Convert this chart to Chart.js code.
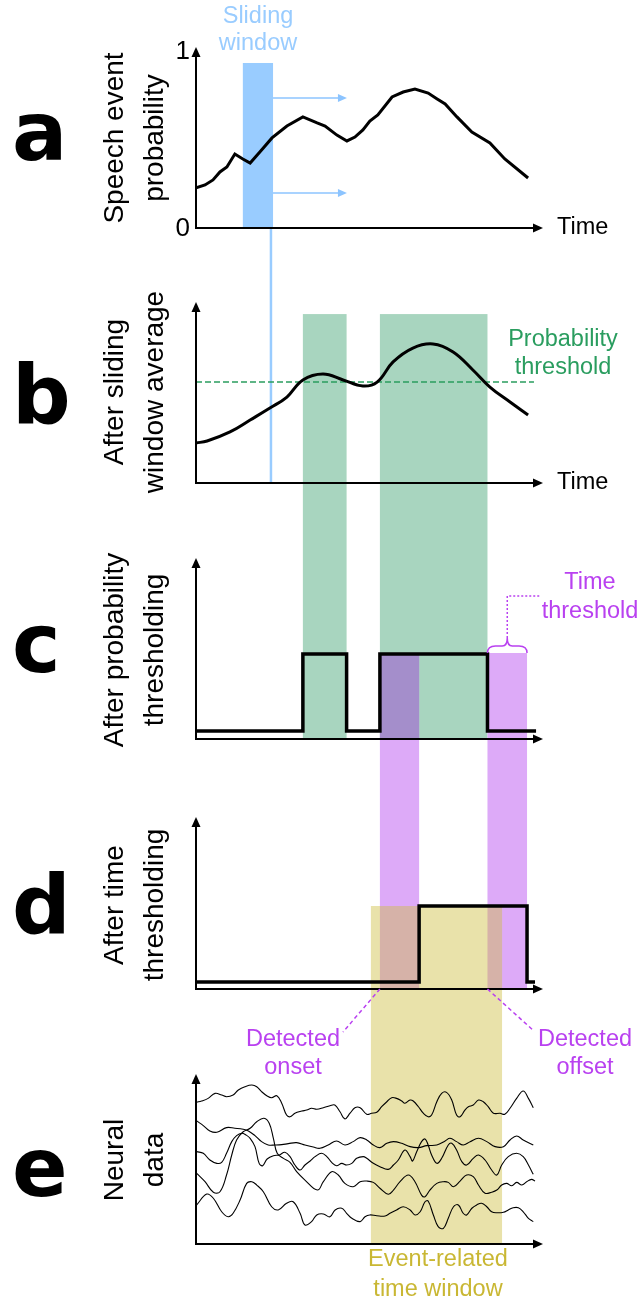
<!DOCTYPE html>
<html><head><meta charset="utf-8">
<script src="https://cdn.jsdelivr.net/npm/chart.js@4"></script>
<style>html,body{margin:0;padding:0;background:#fff;}canvas{display:block;}</style>
</head><body>
<canvas id="c" width="641" height="1302"></canvas>
<script>
// ---------------- DATA ----------------
// time axis (arbitrary units)
const timeRange = [0, 10];
// a: speech event probability
const probT = [0,0.26,0.49,0.69,0.89,1.12,1.35,1.56,1.84,2.19,2.62,3.08,3.49,3.72,4.06,4.35,4.58,4.81,5.01,5.24,5.65,5.97,6.31,6.69,6.95,7.18,7.52,7.95,8.47,8.90,9.57];
const probV = [0.225,0.242,0.27,0.315,0.343,0.416,0.388,0.365,0.427,0.506,0.573,0.624,0.59,0.573,0.522,0.489,0.511,0.551,0.601,0.635,0.736,0.764,0.781,0.758,0.725,0.697,0.624,0.539,0.478,0.388,0.281];
const probTicks = ['0', '1'];
const slidingWindow = [1.35, 2.22];
const slidingWindowTop = 0.927;
const slidingLineT = 2.16;
const slideArrowY = [0.73, 0.197];
const slideArrowEnd = 4.35;
// b: after sliding window average
const avgT = [0,0.32,0.98,1.56,2.13,2.62,3.08,3.66,4.24,4.81,5.22,5.68,6.25,6.83,7.41,7.98,8.47,9.05,9.57];
const avgV = [0.225,0.236,0.287,0.354,0.421,0.483,0.579,0.612,0.579,0.545,0.567,0.680,0.758,0.781,0.736,0.635,0.539,0.455,0.382];
const probThreshold = 0.567;
const thresholdLineEnd = 9.74;
const aboveThreshold = [[3.08, 4.34], [5.30, 8.40]];
const aboveTop = 0.949;
// c: after probability thresholding (binary steps)
const stepCT = [0, 3.08, 4.34, 5.30, 8.40, 9.80];
const stepCV = [0, 1, 0, 1, 0, 0];
const timeThresholdSpans = [[5.30, 6.43], [8.40, 9.54]];
// d: after time thresholding
const stepDT = [0, 6.43, 9.54, 9.77];
const stepDV = [0, 1, 0, 0];
const eventWindow = [5.04, 8.82];
// e: neural data
const n1T = [0.02,0.16,0.35,0.55,0.74,0.88,1.07,1.22,1.41,1.61,1.75,1.89,2.04,2.18,2.33,2.47,2.61,2.71,2.85,3.05,3.19,3.33,3.48,3.67,3.86,4.00,4.15,4.29,4.44,4.58,4.73,4.92,5.06,5.21,5.35,5.50,5.64,5.78,5.93,6.02,6.17,6.26,6.41,6.55,6.69,6.79,6.94,7.08,7.22,7.37,7.51,7.61,7.75,7.85,7.99,8.14,8.28,8.42,8.57,8.76,8.90,9.05,9.24,9.43,9.58,9.72];
const n1V = [0.849,0.856,0.872,0.902,0.892,0.882,0.892,0.922,0.942,0.952,0.942,0.912,0.888,0.876,0.888,0.843,0.772,0.762,0.783,0.796,0.802,0.813,0.807,0.816,0.828,0.832,0.792,0.749,0.783,0.816,0.816,0.777,0.783,0.789,0.822,0.852,0.876,0.872,0.856,0.843,0.862,0.856,0.822,0.783,0.762,0.772,0.852,0.902,0.908,0.862,0.772,0.762,0.802,0.822,0.832,0.862,0.852,0.822,0.783,0.783,0.777,0.813,0.872,0.916,0.872,0.816];
const n2T = [0.02,0.21,0.40,0.60,0.88,1.12,1.36,1.51,1.70,1.89,2.08,2.28,2.47,2.66,2.90,3.14,3.38,3.57,3.81,4.05,4.29,4.53,4.73,4.92,5.11,5.30,5.50,5.69,5.93,6.17,6.41,6.65,6.94,7.18,7.32,7.51,7.70,7.90,8.14,8.38,8.62,8.86,9.05,9.24,9.43,9.72];
const n2V = [0.737,0.709,0.677,0.669,0.697,0.693,0.687,0.677,0.649,0.613,0.593,0.593,0.595,0.601,0.607,0.593,0.581,0.573,0.593,0.617,0.593,0.613,0.637,0.623,0.593,0.577,0.603,0.613,0.603,0.583,0.577,0.589,0.593,0.617,0.633,0.613,0.593,0.613,0.633,0.613,0.583,0.583,0.623,0.647,0.623,0.593];
const n3T = [0.02,0.21,0.40,0.60,0.74,0.88,1.03,1.17,1.32,1.44,1.56,1.70,1.82,1.92,2.05,2.23,2.40,2.56,2.71,2.85,3.00,3.14,3.29,3.43,3.62,3.77,3.91,4.05,4.20,4.34,4.49,4.63,4.82,4.92,5.11,5.30,5.54,5.69,5.83,6.02,6.17,6.24,6.36,6.50,6.60,6.69,6.79,6.94,7.08,7.27,7.37,7.51,7.66,7.80,7.99,8.14,8.33,8.52,8.67,8.81,9.00,9.24,9.43,9.58,9.72];
const n3V = [0.553,0.543,0.503,0.483,0.489,0.543,0.613,0.649,0.663,0.653,0.633,0.583,0.483,0.469,0.509,0.529,0.533,0.549,0.523,0.473,0.443,0.473,0.497,0.523,0.543,0.523,0.489,0.469,0.483,0.473,0.483,0.513,0.523,0.513,0.483,0.463,0.447,0.473,0.503,0.563,0.523,0.497,0.553,0.613,0.629,0.593,0.533,0.483,0.513,0.593,0.603,0.563,0.493,0.473,0.513,0.533,0.503,0.443,0.413,0.473,0.523,0.543,0.523,0.473,0.417];
const n4T = [0.02,0.26,0.50,0.69,0.88,1.03,1.17,1.36,1.56,1.75,1.96,2.11,2.23,2.34,2.52,2.71,2.90,3.14,3.50,3.67,3.91,4.10,4.29,4.53,4.73,4.92,5.11,5.30,5.54,5.69,5.88,6.12,6.31,6.50,6.60,6.74,6.94,7.13,7.27,7.42,7.61,7.80,7.99,8.14,8.33,8.52,8.67,8.81,8.95,9.10,9.24,9.39,9.53,9.67,9.77];
const n4V = [0.423,0.373,0.310,0.313,0.413,0.533,0.623,0.672,0.693,0.732,0.753,0.723,0.633,0.543,0.513,0.489,0.433,0.383,0.323,0.373,0.433,0.413,0.363,0.343,0.373,0.377,0.369,0.334,0.298,0.323,0.373,0.413,0.373,0.293,0.283,0.323,0.363,0.373,0.369,0.343,0.377,0.413,0.403,0.353,0.304,0.310,0.323,0.353,0.363,0.349,0.369,0.353,0.373,0.387,0.377];
const n5T = [0.02,0.31,0.50,0.74,0.93,1.07,1.27,1.46,1.61,1.75,1.94,2.18,2.37,2.61,2.80,3.00,3.14,3.33,3.48,3.67,3.86,4.01,4.20,4.34,4.49,4.73,4.87,5.01,5.21,5.45,5.59,5.78,5.97,6.17,6.31,6.46,6.60,6.69,6.84,6.98,7.13,7.27,7.42,7.56,7.70,7.80,7.95,8.09,8.23,8.38,8.52,8.67,8.86,9.00,9.14,9.29,9.43,9.58,9.72];
const n5V = [0.234,0.299,0.274,0.193,0.163,0.184,0.263,0.363,0.373,0.353,0.313,0.223,0.204,0.244,0.253,0.184,0.114,0.134,0.174,0.180,0.163,0.204,0.214,0.184,0.154,0.134,0.163,0.174,0.169,0.168,0.184,0.204,0.223,0.204,0.174,0.193,0.253,0.257,0.174,0.104,0.094,0.154,0.223,0.234,0.184,0.174,0.214,0.234,0.244,0.223,0.193,0.187,0.190,0.204,0.217,0.217,0.193,0.154,0.134];

// ---------------- LAYOUT ----------------
const W = 641, H = 1302;
const AX_L = 196, AX_R = 543;
const FONT = "'Liberation Sans', Arial, sans-serif";
const C = {
  blue:'#99ccff', blueArrow:'#8cc4ff', green:'#a8d5bf', greenText:'#2a9d5f',
  purple:'#ddaaf8', purpleGreen:'#a48ecb', purpleText:'#b941f0',
  yellow:'#e9e2aa', yellowPurple:'#d6b2a8', yellowText:'#c9b733'
};
// each panel: axis line y, arrow tip y, two value→pixel anchors
const P = {
  ya:{axisY:228, topY:47,  v0:0, p0:228, v1:1, p1:50,  mid:138, letter:'a', lb:160,  title:['Speech event','probability']},
  yb:{axisY:483, topY:302, v0:0, p0:483, v1:1, p1:305, mid:392, letter:'b', lb:423,  title:['After sliding','window average']},
  yc:{axisY:739, topY:558, v0:0, p0:731, v1:1, p1:654, mid:650, letter:'c', lb:672,  title:['After probability','thresholding']},
  yd:{axisY:989, topY:817, v0:0, p0:982, v1:1, p1:906, mid:905, letter:'d', lb:933,  title:['After time','thresholding']},
  ye:{axisY:1244,topY:1074,v0:0, p0:1244,v1:1, p1:1077,mid:1160,letter:'e', lb:1196, title:['Neural','data']}
};
function scaleFor(g){
  const k = (g.p1-g.p0)/(g.v1-g.v0);
  const val = p => g.v0 + (p-g.p0)/k;
  return {type:'linear', display:false, min: val(H), max: val(0)};
}
const pts = (T,V) => T.map((t,i)=>({x:t,y:V[i]}));

function arrowHead(ctx, x, y, dir, len, half){
  ctx.beginPath();
  if(dir==='up'){ ctx.moveTo(x,y); ctx.lineTo(x-half,y+len); ctx.lineTo(x+half,y+len); }
  else { ctx.moveTo(x,y); ctx.lineTo(x-len,y-half); ctx.lineTo(x-len,y+half); }
  ctx.closePath(); ctx.fill();
}

const diagram = {
  id:'diagram',
  beforeDatasetsDraw(chart){
    const ctx = chart.ctx, s = chart.scales;
    const X = t => s.x.getPixelForValue(t);
    const Y = (id,v) => s[id].getPixelForValue(v);
    ctx.save();
    const rect = (x1,x2,y1,y2,col)=>{ ctx.fillStyle=col; ctx.fillRect(x1,y1,x2-x1,y2-y1); };
    // sliding window
    rect(X(slidingWindow[0]), X(slidingWindow[1]), Y('ya',slidingWindowTop), P.ya.axisY, C.blue);
    // green (above threshold)
    const gTop = Y('yb',aboveTop), gBot = P.yc.axisY-1;
    aboveThreshold.forEach(r=>rect(X(r[0]),X(r[1]),gTop,gBot,C.green));
    // purple (time threshold)
    const pTop = Y('yc',1)-1, pBot = P.yd.axisY-1;
    timeThresholdSpans.forEach(r=>rect(X(r[0]),X(r[1]),pTop,pBot,C.purple));
    // yellow (event window)
    const yTop = Y('yd',1), yBot = P.ye.axisY-1;
    rect(X(eventWindow[0]),X(eventWindow[1]),yTop,yBot,C.yellow);
    // overlaps
    timeThresholdSpans.forEach(p=>{
      aboveThreshold.forEach(g=>{
        const a=Math.max(p[0],g[0]), b=Math.min(p[1],g[1]);
        if(b>a) rect(X(a),X(b),Math.max(pTop,gTop),Math.min(pBot,gBot),C.purpleGreen);
      });
      const a=Math.max(p[0],eventWindow[0]), b=Math.min(p[1],eventWindow[1]);
      if(b>a) rect(X(a),X(b),Math.max(pTop,yTop),Math.min(pBot,yBot),C.yellowPurple);
    });
    // sliding window line down to panel b
    ctx.strokeStyle=C.blue; ctx.lineWidth=2.5;
    ctx.beginPath(); ctx.moveTo(X(slidingLineT),P.ya.axisY); ctx.lineTo(X(slidingLineT),P.yb.axisY); ctx.stroke();
    // threshold dashed line
    ctx.strokeStyle=C.greenText; ctx.lineWidth=1.5; ctx.setLineDash([6,3]);
    ctx.beginPath(); ctx.moveTo(AX_L,Y('yb',probThreshold)); ctx.lineTo(X(thresholdLineEnd),Y('yb',probThreshold)); ctx.stroke();
    ctx.setLineDash([]);
    // axes
    ctx.strokeStyle='#000'; ctx.fillStyle='#000'; ctx.lineWidth=2;
    Object.values(P).forEach(g=>{
      ctx.beginPath();
      ctx.moveTo(AX_L, g.topY+8); ctx.lineTo(AX_L, g.axisY); ctx.lineTo(AX_R-8, g.axisY);
      ctx.stroke();
      arrowHead(ctx, AX_L, g.topY, 'up', 10, 4.5);
      arrowHead(ctx, AX_R, g.axisY, 'right', 10, 4.5);
    });
    ctx.restore();
  },
  afterDatasetsDraw(chart){
    const ctx = chart.ctx, s = chart.scales;
    const X = t => s.x.getPixelForValue(t);
    const Y = (id,v) => s[id].getPixelForValue(v);
    ctx.save();
    // panel letters
    ctx.fillStyle='#000'; ctx.font="bold 82px 'DejaVu Sans', sans-serif";
    ctx.textAlign='left'; ctx.textBaseline='alphabetic';
    Object.values(P).forEach(g=>ctx.fillText(g.letter, 12, g.lb));
    // rotated titles
    ctx.font='28px '+FONT; ctx.textAlign='center';
    Object.values(P).forEach(g=>{
      [123,163].forEach((bx,i)=>{
        ctx.save(); ctx.translate(bx, g.mid); ctx.rotate(-Math.PI/2);
        ctx.fillText(g.title[i],0,0); ctx.restore();
      });
    });
    // tick labels panel a
    ctx.font='26px '+FONT; ctx.textAlign='right'; ctx.textBaseline='middle';
    ctx.fillText(probTicks[1], 190, Y('ya',1)+2);
    ctx.fillText(probTicks[0], 190, Y('ya',0)+1);
    // Time labels
    ctx.font='23.5px '+FONT; ctx.textAlign='left';
    ctx.fillText('Time', 557, P.ya.axisY);
    ctx.fillText('Time', 557, P.yb.axisY);
    // sliding window text + arrows
    ctx.textAlign='center'; ctx.fillStyle=C.blue;
    ctx.fillText('Sliding', 258, 17); ctx.fillText('window', 258, 44);
    ctx.strokeStyle=C.blueArrow; ctx.fillStyle=C.blueArrow; ctx.lineWidth=1.5;
    slideArrowY.forEach(v=>{
      const y=Y('ya',v);
      ctx.beginPath(); ctx.moveTo(X(slidingWindow[1]),y); ctx.lineTo(X(slideArrowEnd)-6,y); ctx.stroke();
      arrowHead(ctx, X(slideArrowEnd), y, 'right', 9, 4);
    });
    // probability threshold text
    ctx.fillStyle=C.greenText;
    ctx.fillText('Probability', 563, 340); ctx.fillText('threshold', 563, 368);
    // time threshold brace
    const x1=X(timeThresholdSpans[1][0]), x2=X(timeThresholdSpans[1][1]), mid=(x1+x2)/2, yb=Y('yc',1)-1;
    ctx.strokeStyle=C.purpleText; ctx.lineWidth=1.5;
    ctx.beginPath();
    ctx.moveTo(x1,yb); ctx.quadraticCurveTo(x1,yb-7,x1+8,yb-7); ctx.lineTo(mid-5,yb-7);
    ctx.quadraticCurveTo(mid,yb-7,mid,yb-15); ctx.quadraticCurveTo(mid,yb-7,mid+5,yb-7);
    ctx.lineTo(x2-8,yb-7); ctx.quadraticCurveTo(x2,yb-7,x2,yb); ctx.stroke();
    ctx.setLineDash([2,2]);
    ctx.beginPath(); ctx.moveTo(mid,yb-15); ctx.lineTo(mid,596); ctx.lineTo(540,596); ctx.stroke();
    // detected onset / offset pointers
    ctx.setLineDash([4,3]);
    ctx.beginPath(); ctx.moveTo(X(timeThresholdSpans[0][0]),P.yd.axisY); ctx.lineTo(343,1032); ctx.stroke();
    ctx.beginPath(); ctx.moveTo(X(timeThresholdSpans[1][0]),P.yd.axisY); ctx.lineTo(534,1031); ctx.stroke();
    ctx.setLineDash([]);
    ctx.fillStyle=C.purpleText;
    ctx.fillText('Time', 590, 583); ctx.fillText('threshold', 590, 612);
    ctx.fillText('Detected', 293, 1040); ctx.fillText('onset', 293, 1068);
    ctx.fillText('Detected', 585, 1040); ctx.fillText('offset', 585, 1068);
    // event-related text
    ctx.fillStyle=C.yellowText;
    ctx.fillText('Event-related', 438, 1260); ctx.fillText('time window', 438, 1290);
    ctx.restore();
  }
};

const line = (data, yAxisID, extra) => Object.assign({data, yAxisID, borderColor:'#000', pointRadius:0, fill:false}, extra);
const neuralStyle = {borderWidth:1.1, tension:0.4};

new Chart(document.getElementById('c'), {
  type:'line',
  data:{datasets:[
    line(pts(probT,probV),'ya',{borderWidth:3, tension:0}),
    line(pts(avgT,avgV),'yb',{borderWidth:3, tension:0.4}),
    line(pts(stepCT,stepCV),'yc',{borderWidth:3.5, stepped:'before'}),
    line(pts(stepDT,stepDV),'yd',{borderWidth:3.5, stepped:'before'}),
    line(pts(n1T,n1V),'ye',neuralStyle),
    line(pts(n2T,n2V),'ye',neuralStyle),
    line(pts(n3T,n3V),'ye',neuralStyle),
    line(pts(n4T,n4V),'ye',neuralStyle),
    line(pts(n5T,n5V),'ye',neuralStyle)
  ]},
  options:{
    responsive:false, animation:false, events:[],
    layout:{padding:{left:AX_L, right:W-AX_R, top:0, bottom:0}},
    plugins:{legend:{display:false}, tooltip:{enabled:false}},
    scales:{
      x:{type:'linear', display:false, min:timeRange[0], max:timeRange[1]},
      ya:scaleFor(P.ya), yb:scaleFor(P.yb), yc:scaleFor(P.yc), yd:scaleFor(P.yd), ye:scaleFor(P.ye)
    }
  },
  plugins:[diagram]
});
</script>
</body></html>
